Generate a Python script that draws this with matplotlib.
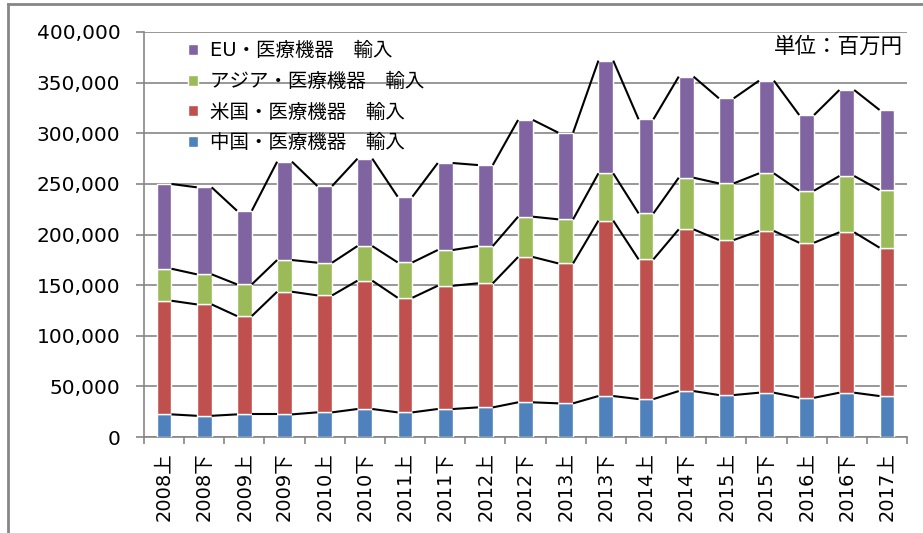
import matplotlib.pyplot as plt
from matplotlib.lines import Line2D
import numpy as np

plt.rcParams['font.family'] = ['DejaVu Sans', 'Noto Sans CJK JP']

periods = ["2008上", "2008下", "2009上", "2009下", "2010上", "2010下", "2011上",
           "2011下", "2012上", "2012下", "2013上", "2013下", "2014上", "2014下",
           "2015上", "2015下", "2016上", "2016下", "2017上"]

china = [22400, 21000, 22400, 22400, 24400, 27700, 24400, 27700, 29300, 34300,
         33300, 40500, 37500, 45400, 41500, 43800, 38800, 43800, 40500]
usa_top = [134600, 131000, 119500, 143500, 139900, 154400, 137600, 149400, 151800, 177800,
           171500, 213700, 175500, 205100, 194600, 203500, 191900, 202200, 187000]
asia_top = [166200, 160700, 150800, 174800, 172200, 188600, 172500, 184700, 188600, 217600,
            215000, 260400, 220900, 256100, 250500, 260400, 243300, 257800, 243900]
eu_top = [249900, 246600, 223500, 271900, 247900, 274900, 237400, 270600, 268600, 313100,
          300600, 371700, 313800, 355900, 334500, 351900, 318000, 342700, 323000]

usa = list(np.array(usa_top) - np.array(china))
asia = list(np.array(asia_top) - np.array(usa_top))
eu = list(np.array(eu_top) - np.array(asia_top))

series = [
    ("中国・医療機器　輸入", china, "#4F81BD"),
    ("米国・医療機器　輸入", usa, "#C0504D"),
    ("アジア・医療機器　輸入", asia, "#9BBB59"),
    ("EU・医療機器　輸入", eu, "#8064A2"),
]

fig = plt.figure(figsize=(9.23, 5.33), dpi=100)
ax = fig.add_axes([0.156, 0.18, 0.8267, 0.76])

x = np.arange(len(periods))
w = 0.37
bottom = np.zeros(len(periods))
tops = []
for name, vals, col in series:
    ax.bar(x, vals, w, bottom=bottom, color=col, edgecolor="white",
           linewidth=1, label=name, zorder=3)
    bottom = bottom + np.array(vals)
    tops.append(bottom.copy())

# series lines between bars
for lvl in tops:
    for i in range(len(x) - 1):
        ax.plot([x[i] + w / 2, x[i + 1] - w / 2], [lvl[i], lvl[i + 1]],
                color="black", lw=1.5, zorder=4, solid_capstyle="butt")

ax.set_xlim(-0.5, len(periods) - 0.5)
ax.set_ylim(0, 400000)
ax.set_yticks(np.arange(0, 400001, 50000))
ax.set_yticklabels([f"{v:,}" for v in range(0, 400001, 50000)])
ax.yaxis.grid(True, color="#868686", lw=1.2, zorder=0)

ax.set_xticks(x)
ax.set_xticklabels(periods, rotation=90)
ax.set_xticks(np.arange(-0.5, len(periods), 1), minor=True)
ax.tick_params(axis="x", which="major", length=0, pad=11, labelsize=14)
ax.tick_params(axis="x", which="minor", length=5, color="#868686", width=1.2)
ax.tick_params(axis="y", length=6, color="#868686", width=1.2, pad=11, labelsize=14.5)

for s in ["top", "right"]:
    ax.spines[s].set_visible(False)
for s in ["left", "bottom"]:
    ax.spines[s].set_color("#868686")
    ax.spines[s].set_linewidth(1.2)

handles, labels = ax.get_legend_handles_labels()
ax.legend(handles[::-1], labels[::-1], loc="upper left", bbox_to_anchor=(0.035, 1.02),
          frameon=False, fontsize=14, handlelength=0.5, handleheight=0.5,
          labelspacing=0.6, handletextpad=0.6)

ax.text(0.995, 0.965, "単位：百万円", transform=ax.transAxes, ha="right", va="center",
        fontsize=15.5)

# outer chart frame (only left and top visible)
fig.add_artist(Line2D([8 / 923, 8 / 923], [0, 1 - 4 / 533], color="#868686", lw=2,
                      transform=fig.transFigure))
fig.add_artist(Line2D([8 / 923, 1], [1 - 4 / 533, 1 - 4 / 533], color="#868686", lw=2,
                      transform=fig.transFigure))

fig.savefig("out.png", dpi=100)
